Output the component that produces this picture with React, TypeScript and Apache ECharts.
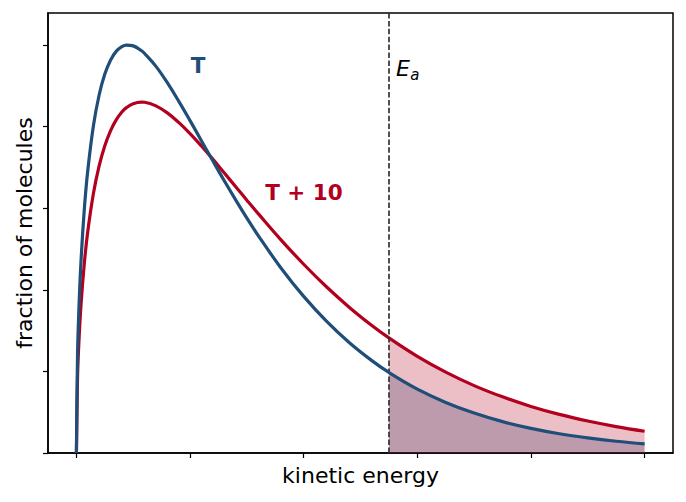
import React, { useEffect, useRef } from "react";
import * as echarts from "echarts";

// Kinetic energy grid (arbitrary units) and the two distribution curves
const energy = [
  0, 0.01, 0.02, 0.04, 0.07, 0.1, 0.15, 0.2, 0.25, 0.3, 0.35, 0.4, 0.44, 0.5, 0.573,
  0.6, 0.7, 0.8, 0.9, 1.0, 1.1, 1.2, 1.3, 1.4, 1.5, 1.6, 1.8, 2.0, 2.2, 2.4, 2.6,
  2.75, 3.0, 3.25, 3.5, 3.75, 4.0, 4.25, 4.5, 4.75, 5.0,
];
const fractionT = [
  0, 1.209, 1.691, 2.339, 2.994, 3.462, 4.014, 4.387, 4.643, 4.814, 4.922, 4.98, 4.999,
  4.989, 4.929, 4.896, 4.738, 4.538, 4.312, 4.073, 3.827, 3.581, 3.339, 3.105, 2.879,
  2.664, 2.268, 1.919, 1.616, 1.355, 1.132, 0.987, 0.783, 0.62, 0.489, 0.384, 0.302,
  0.236, 0.185, 0.144, 0.112,
];
const fractionT10 = [
  0, 0.928, 1.302, 1.809, 2.331, 2.714, 3.182, 3.518, 3.765, 3.948, 4.082, 4.178, 4.232,
  4.281, 4.3, 4.298, 4.254, 4.168, 4.051, 3.914, 3.762, 3.601, 3.434, 3.266, 3.098,
  2.933, 2.612, 2.313, 2.037, 1.787, 1.562, 1.41, 1.184, 0.991, 0.826, 0.688, 0.571,
  0.473, 0.392, 0.324, 0.267,
];
const activationEnergy = 2.75;
const xTicks = [0, 1, 2, 3, 4, 5];
const yTicks = [0, 1, 2, 3, 4, 5];

const BLUE = "#1f4e79";
const RED = "#b2001f";
const FONT = '"DejaVu Sans", "Liberation Sans", sans-serif';

const pairs = (ys: number[]) => energy.map((x, i) => [x, ys[i]]);
const tail = (ys: number[]) => pairs(ys).filter((p) => p[0] >= activationEnergy);

export default function App() {
  const ref = useRef<HTMLDivElement>(null);

  useEffect(() => {
    if (!ref.current) return;
    const chart = echarts.init(ref.current, null, { renderer: "svg" });
    chart.setOption({
      animation: false,
      grid: {
        left: 48,
        right: 13,
        top: 13,
        bottom: 49,
        show: true,
        borderColor: "#000",
        borderWidth: 1.5,
        backgroundColor: "transparent",
      },
      xAxis: {
        type: "value",
        min: -0.25,
        max: 5.25,
        name: "kinetic energy",
        nameLocation: "middle",
        nameGap: 11,
        nameTextStyle: { color: "#000", fontFamily: FONT, fontSize: 22 },
        axisLine: { show: true, onZero: false, lineStyle: { color: "#000", width: 1.5 } },
        axisTick: {
          show: true,
          length: 5,
          customValues: xTicks,
          lineStyle: { color: "#000", width: 1.2 },
        },
        axisLabel: { show: false },
        splitLine: { show: false },
      },
      yAxis: {
        type: "value",
        min: 0,
        max: 5.392,
        name: "fraction of molecules",
        nameLocation: "middle",
        nameGap: 13,
        nameTextStyle: { color: "#000", fontFamily: FONT, fontSize: 22 },
        axisLine: { show: true, onZero: false, lineStyle: { color: "#000", width: 1.5 } },
        axisTick: {
          show: true,
          length: 5,
          customValues: yTicks,
          lineStyle: { color: "#000", width: 1.2 },
        },
        axisLabel: { show: false },
        splitLine: { show: false },
      },
      series: [
        {
          name: "T fill",
          type: "line",
          data: tail(fractionT),
          smooth: 0.4,
          showSymbol: false,
          silent: true,
          z: 1,
          lineStyle: { width: 0 },
          areaStyle: { color: BLUE, opacity: 0.27 },
        },
        {
          name: "T + 10 fill",
          type: "line",
          data: tail(fractionT10),
          smooth: 0.4,
          showSymbol: false,
          silent: true,
          z: 2,
          lineStyle: { width: 0 },
          areaStyle: { color: RED, opacity: 0.25 },
        },
        {
          name: "T + 10",
          type: "line",
          data: pairs(fractionT10),
          smooth: 0.4,
          showSymbol: false,
          silent: true,
          z: 4,
          lineStyle: { color: RED, width: 3.2 },
          markLine: {
            silent: true,
            symbol: "none",
            label: { show: false },
            lineStyle: { color: "#333", width: 1.7, type: [5.5, 2.4] },
            data: [{ xAxis: activationEnergy }],
          },
        },
        {
          name: "T",
          type: "line",
          data: pairs(fractionT),
          smooth: 0.4,
          showSymbol: false,
          silent: true,
          z: 5,
          lineStyle: { color: BLUE, width: 3.2 },
        },
      ],
    });

    // Curve labels and the activation energy marker, anchored in data space
    const at = (p: number[]) => chart.convertToPixel({ gridIndex: 0 }, p) as number[];
    const pT = at([1.071, 4.749]);
    const pT10 = at([2.002, 3.192]);
    const pE = at([2.813, 4.71]);
    const pA = at([2.937, 4.629]);
    chart.setOption({
      graphic: [
        {
          type: "text",
          x: pT[0],
          y: pT[1],
          silent: true,
          style: {
            text: "T",
            fill: BLUE,
            font: `bold 21.5px ${FONT}`,
            align: "center",
            verticalAlign: "middle",
          },
        },
        {
          type: "text",
          x: pT10[0],
          y: pT10[1],
          silent: true,
          style: {
            text: "T + 10",
            fill: RED,
            font: `bold 21.5px ${FONT}`,
            align: "center",
            verticalAlign: "middle",
          },
        },
        {
          type: "text",
          x: pE[0],
          y: pE[1],
          silent: true,
          style: {
            text: "E",
            fill: "#000",
            font: `italic 22px ${FONT}`,
            align: "left",
            verticalAlign: "middle",
          },
        },
        {
          type: "text",
          x: pA[0],
          y: pA[1],
          silent: true,
          style: {
            text: "a",
            fill: "#000",
            font: `italic 15px ${FONT}`,
            align: "left",
            verticalAlign: "middle",
          },
        },
      ],
    });

    return () => chart.dispose();
  }, []);

  return (
    <div
      ref={ref}
      style={{ position: "fixed", left: 0, top: 0, width: 686, height: 502, background: "#fff" }}
    />
  );
}
